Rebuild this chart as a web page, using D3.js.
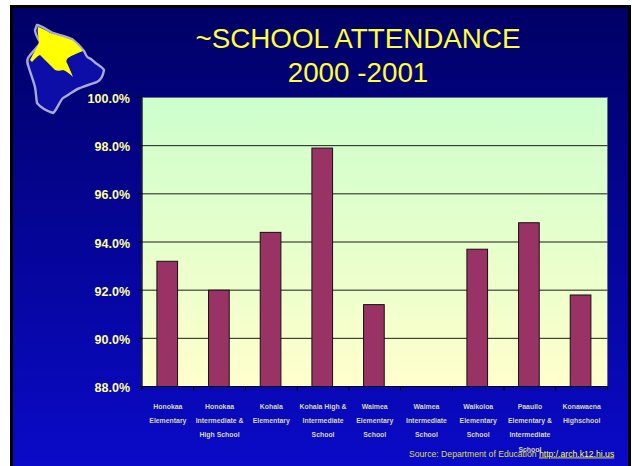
<!DOCTYPE html>
<html>
<head>
<meta charset="utf-8">
<script src="https://cdn.jsdelivr.net/npm/d3@7"></script>
<style>
html, body { margin: 0; padding: 0; background: #fff; }
svg { display: block; font-family: "Liberation Sans", Arial, sans-serif; }
</style>
</head>
<body>
<svg width="632" height="466"></svg>
<script>
// values
const schools = [
    ["Honokaa", "Elementary"],
    ["Honokaa", "Intermediate &", "High School"],
    ["Kohala", "Elementary"],
    ["Kohala High &", "Intermediate", "School"],
    ["Waimea", "Elementary", "School"],
    ["Waimea", "Intermediate", "School"],
    ["Waikoloa", "Elementary", "School"],
    ["Paauilo", "Elementary &", "Intermediate", "School"],
    ["Konawaena", "Highschool"]
];
const attendance = [93.2, 92.0, 94.4, 97.9, 91.4, null, 93.7, 94.8, 91.8];
const yTicks = [88, 90, 92, 94, 96, 98, 100];
const titleLines = ["~SCHOOL ATTENDANCE", "2000 -2001"];

const svg = d3.select("svg");
const defs = svg.append("defs");

function vGradient(id, top, bottom) {
    const grad = defs.append("linearGradient").attr("id", id)
        .attr("x1", 0).attr("y1", 0).attr("x2", 0).attr("y2", 1);
    grad.append("stop").attr("offset", "0%").attr("stop-color", top);
    grad.append("stop").attr("offset", "100%").attr("stop-color", bottom);
}
vGradient("slideBg", "#000066", "#0a0ac8");
vGradient("plotBg", "#ccffcc", "#ffffcc");

defs.append("filter").attr("id", "soft")
    .append("feGaussianBlur").attr("stdDeviation", 0.6);

// slide
svg.append("rect").attr("x", 10).attr("y", 5).attr("width", 621).attr("height", 461).attr("fill", "#000");
svg.append("rect").attr("x", 13).attr("y", 8).attr("width", 615).attr("height", 458).attr("fill", "url(#slideBg)");

// island logo
const logo = svg.append("g").attr("filter", "url(#soft)");
const islandOutline = "M37,25 C41,25 48,31 53,33 C60,35 67,37 72,39 C77,43 81,47 84,51 C86,55 87,58 89,58 C92,59 94,62 97,64 C100,66 103,68 104,70 C103,76 101,80 97,82 C91,84 85,86 80,88 C74,90 69,95 63,98 C59,102 57,110 53,113 C47,111 41,108 37,103 C36,97 36,92 35,87 C33,79 30,72 28,65 C27,62 27,60 28,58 C31,53 35,50 37,47 C39,45 40,43 40,42 C37,37 35,33 35,30 Z";
logo.append("path").attr("d", islandOutline)
    .attr("fill", "#0808a8").attr("stroke", "#a9a9d6").attr("stroke-width", 2.4);
logo.append("path")
    .attr("d", "M38,27 C43,28 49,33 53,34 C60,36 67,38 72,40 C76,43 80,47 83,51 C78,53 72,55 68,58 C66,60 66,62 67,63 C69,67 71,72 73,77 C70,74 66,71 63,70 C60,71 57,71 55,70 C50,65 45,60 40,55 C37,56 34,60 32,62 L30,60 C33,54 37,48 39,43 C39,38 37,32 38,27 Z")
    .attr("fill", "#ffff00");

// title
svg.append("g").selectAll("text")
    .data(titleLines)
    .enter().append("text")
    .attr("x", 358)
    .attr("y", (d, i) => 48 + i * 34)
    .attr("text-anchor", "middle")
    .attr("font-size", 27.8)
    .attr("fill", "#ffff33")
    .text(d => d);

// scales
const x = d3.scaleBand().domain(d3.range(schools.length)).range([141.4, 606.4]).paddingInner(0.6).paddingOuter(0.3);
const xEdge = d3.scaleLinear().domain([0, schools.length]).range([142, 607.5]);
const y = d3.scaleLinear().domain([88, 100]).range([386.5, 97.5]);

// plot area
svg.append("rect")
    .attr("x", xEdge(0)).attr("y", y(100))
    .attr("width", xEdge(schools.length) - xEdge(0)).attr("height", y(88) - y(100))
    .attr("fill", "url(#plotBg)")
    .attr("stroke", "#6a6a80").attr("stroke-width", 1);

// gridlines
svg.append("g").selectAll("line")
    .data(yTicks.filter(d => d > 88 && d < 100))
    .enter().append("line")
    .attr("x1", xEdge(0)).attr("x2", xEdge(schools.length))
    .attr("y1", d => y(d)).attr("y2", d => y(d))
    .attr("stroke", "#1c1c1c").attr("stroke-width", 1);

// bars
svg.append("g").selectAll("rect")
    .data(attendance.map((v, i) => ({ v, i })).filter(d => d.v !== null))
    .enter().append("rect")
    .attr("x", d => x(d.i))
    .attr("y", d => y(d.v))
    .attr("width", x.bandwidth())
    .attr("height", d => y(88) - y(d.v))
    .attr("fill", "#993366")
    .attr("stroke", "#111").attr("stroke-width", 1);

// axes
const axisLines = svg.append("g").attr("stroke", "#000").attr("stroke-width", 1);
axisLines.append("line").attr("x1", xEdge(0)).attr("x2", xEdge(schools.length)).attr("y1", y(88)).attr("y2", y(88));
axisLines.append("line").attr("x1", xEdge(0)).attr("x2", xEdge(0)).attr("y1", y(100)).attr("y2", y(88));
axisLines.selectAll("line.xtick")
    .data(d3.range(schools.length + 1))
    .enter().append("line")
    .classed("xtick", true)
    .attr("x1", d => xEdge(d)).attr("x2", d => xEdge(d))
    .attr("y1", y(88)).attr("y2", y(88) + 4);
axisLines.selectAll("line.ytick")
    .data(yTicks)
    .enter().append("line")
    .classed("ytick", true)
    .attr("x1", 138).attr("x2", 142)
    .attr("y1", d => y(d)).attr("y2", d => y(d));

// y tick labels
svg.append("g").selectAll("text")
    .data(yTicks)
    .enter().append("text")
    .attr("x", 130)
    .attr("y", d => y(d) + 5.5)
    .attr("text-anchor", "end")
    .attr("font-size", 12.5)
    .attr("font-weight", "bold")
    .attr("fill", "#ffff99")
    .text(d => d.toFixed(1) + "%");

// category labels
const catLabels = svg.append("g").selectAll("text")
    .data(schools)
    .enter().append("text")
    .attr("text-anchor", "middle")
    .attr("font-size", 6.9)
    .attr("font-weight", "bold")
    .attr("fill", "#d8d8ac");
catLabels.selectAll("tspan")
    .data((d, i) => d.map(line => ({ line, i })))
    .enter().append("tspan")
    .attr("x", d => xEdge(d.i + 0.5))
    .attr("y", (d, j) => 409 + j * 14.2)
    .text(d => d.line);

// source line
const source = svg.append("text")
    .attr("x", 409).attr("y", 456.5)
    .attr("font-size", 8.65)
    .attr("fill", "#dcdc40");
source.append("tspan").text("Source: Department of Education ");
source.append("tspan").attr("text-decoration", "underline").attr("fill", "#ffff33").text("http:/.arch.k12.hi.us");
</script>
</body>
</html>
